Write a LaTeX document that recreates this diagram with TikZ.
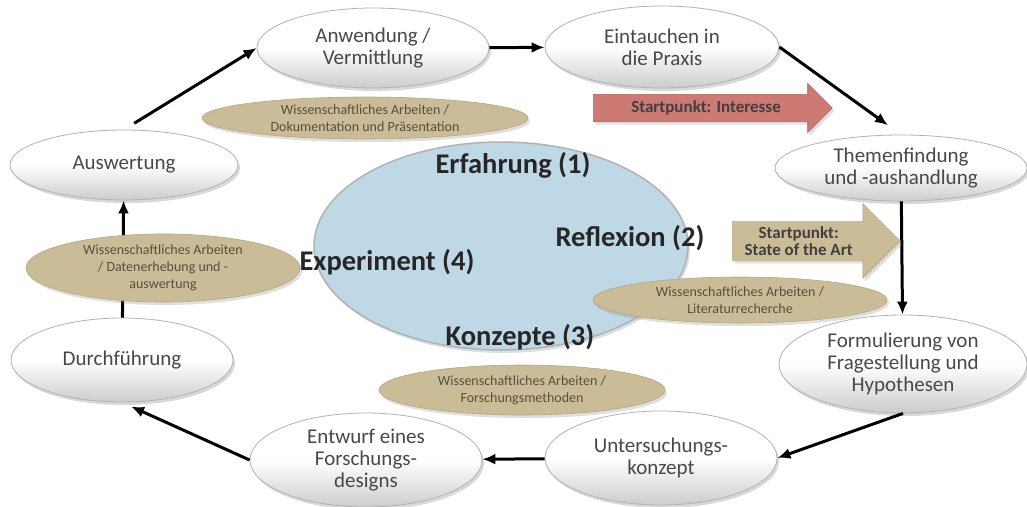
\documentclass[tikz,border=0pt]{standalone}
\usepackage{fontspec}
\setmainfont{Carlito}
\usetikzlibrary{shapes.geometric,shapes.arrows,shadows,arrows.meta}

\definecolor{tan}{RGB}{201,188,150}
\definecolor{tanline}{RGB}{180,168,130}
\definecolor{paleblue}{RGB}{190,216,230}
\definecolor{rosered}{RGB}{205,122,117}
\definecolor{roseline}{RGB}{175,95,90}
\definecolor{txtgray}{RGB}{72,72,72}
\definecolor{tantext}{RGB}{88,80,62}

\tikzset{
  stage/.style={ellipse, draw=gray!60, line width=0.8pt, top color=white, bottom color=gray!40, middle color=white,
    drop shadow={opacity=0.3, shadow xshift=2pt, shadow yshift=-3pt}, inner sep=1pt, align=center,
    text=txtgray, font=\fontsize{21}{22}\selectfont},
  method/.style={ellipse, fill=tan, draw=tanline, line width=0.6pt, drop shadow={opacity=0.25, shadow xshift=2pt, shadow yshift=-3pt},
    inner sep=1pt, align=center, text=tantext, font=\fontsize{14}{17}\selectfont},
  phase/.style={inner sep=0pt, text=black!85, font=\bfseries\fontsize{28.5}{30}\selectfont},
  start/.style={single arrow, anchor=tail, line width=0.6pt, inner xsep=4pt, align=center, text=black!75,
    drop shadow={opacity=0.25, shadow xshift=2pt, shadow yshift=-3pt}, font=\bfseries\fontsize{17}{17}\selectfont},
  flow/.style={-{Latex[length=13pt,width=11pt]}, line width=3pt}
}

\begin{document}
\begin{tikzpicture}[x=1pt,y=-1pt]
\path[use as bounding box, fill=white] (0,0) rectangle (1027,506);

\node[stage, minimum width=232pt, minimum height=80pt] (anwendung) at (373,48) {Anwendung /\\Vermittlung};
\node[stage, minimum width=234pt, minimum height=82pt] (eintauchen) at (662,47) {Eintauchen in\\die Praxis};
\node[stage, minimum width=252pt, minimum height=66pt] (themen) at (901,168) {Themenfindung\\und -aushandlung};
\node[stage, minimum width=248pt, minimum height=98pt] (form) at (903,364) {Formulierung von\\Fragestellung und\\Hypothesen};
\node[stage, minimum width=232pt, minimum height=94pt] (unters) at (661,458) {Untersuchungs-\\konzept};
\node[stage, minimum width=232pt, minimum height=94pt] (entwurf) at (366,460) {Entwurf eines\\Forschungs-\\designs};
\node[stage, minimum width=222pt, minimum height=84pt] (durch) at (122,360) {Durchführung};
\node[stage, minimum width=228pt, minimum height=70pt] (ausw) at (124,165) {Auswertung};

\draw[flow, shorten <=12pt] (ausw.north) -- (anwendung.west);
\draw[flow] (anwendung) -- (eintauchen);
\draw[flow, shorten >=16pt] (eintauchen.east) -- (themen.north);
\draw[flow] (themen) -- (form);
\draw[flow] (form.south) -- (unters.east);
\draw[flow] (unters) -- (entwurf);
\draw[flow, shorten >=10pt] (entwurf.west) -- (durch.south);
\draw[flow] (durch) -- (ausw);

\node[ellipse, fill=paleblue, draw=gray!60, line width=1.5pt, minimum width=374pt, minimum height=208pt,
  drop shadow={opacity=0.25, shadow xshift=2pt, shadow yshift=-3pt}] (zyklus) at (501,246) {};

\node[method, minimum width=326pt, minimum height=42pt] (doku) at (365,118) {Wissenschaftliches Arbeiten /\\Dokumentation und Präsentation};
\node[method, minimum width=274pt, minimum height=66pt] (daten) at (163,268) {Wissenschaftliches Arbeiten\\/ Datenerhebung und -\\auswertung};
\node[method, minimum width=294pt, minimum height=46pt] (litera) at (740,300) {Wissenschaftliches Arbeiten /\\Literaturrecherche};
\node[method, minimum width=286pt, minimum height=50pt] (methoden) at (522,390) {Wissenschaftliches Arbeiten /\\Forschungsmethoden};

\node[start, fill=rosered, draw=roseline, inner ysep=6pt, single arrow head extend=11pt, minimum height=239pt] (interesse) at (593,108) {Startpunkt: Interesse};
\node[start, fill=tan, draw=tanline, inner ysep=4.5pt, single arrow head extend=18pt, minimum height=168pt] (stand) at (732,241) {Startpunkt:\hspace*{16pt}\\State of the Art\hspace*{16pt}};

\node[phase] (erfahrung) at (513,165) {Erfahrung (1)};
\node[phase] (reflexion) at (630,238) {Reflexion (2)};
\node[phase] (experiment) at (387,262) {Experiment (4)};
\node[phase] (konzepte) at (520,337) {Konzepte (3)};
\end{tikzpicture}
\end{document}
